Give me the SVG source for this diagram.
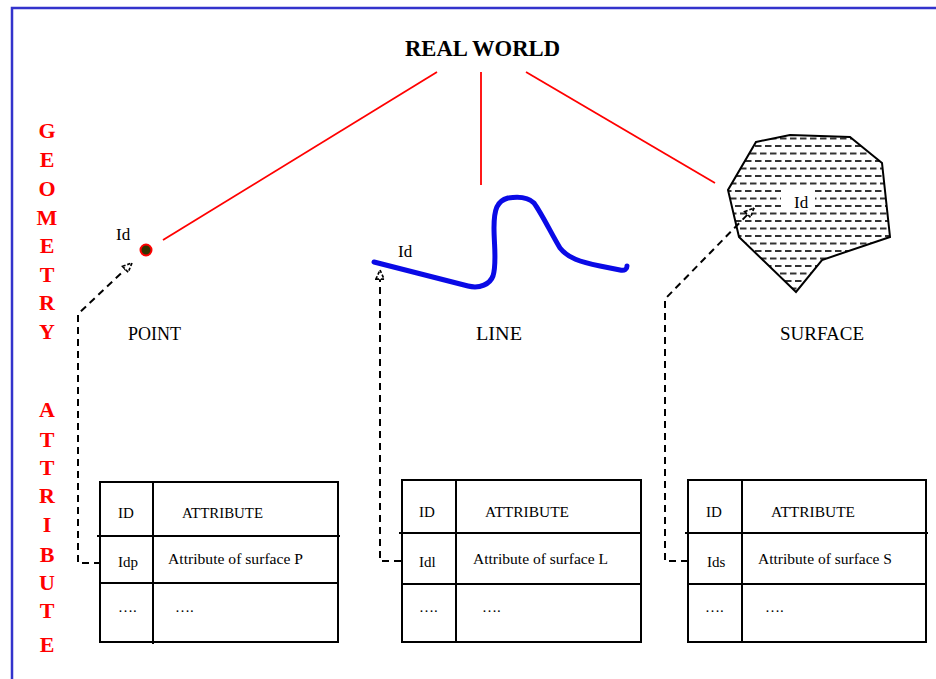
<svg xmlns="http://www.w3.org/2000/svg" width="936" height="679" viewBox="0 0 936 679">
  <style>
    .frame { fill: none; stroke: #3333cc; stroke-width: 2.5; }
    .ray { stroke: #ff0000; stroke-width: 1.8; fill: none; }
    .side { font-family: "Liberation Serif", "Times New Roman", serif; font-weight: bold; font-size: 22px; fill: #ff0000; text-anchor: middle; }
    .title { font-family: "Liberation Serif", "Times New Roman", serif; font-weight: bold; font-size: 24px; fill: #000; }
    .lbl { font-family: "Liberation Serif", "Times New Roman", serif; font-size: 18px; fill: #000; }
    .id { font-family: "Liberation Serif", "Times New Roman", serif; font-size: 17px; fill: #000; }
    .cell { font-family: "Liberation Serif", "Times New Roman", serif; font-size: 15px; fill: #000; }
    .grid { fill: none; stroke: #000; stroke-width: 2; }
    .link { fill: none; stroke: #000; stroke-width: 2; stroke-dasharray: 7 5; }
  </style>
  <defs>
    <marker id="openArrow" viewBox="0 0 12 12" refX="11" refY="6" markerWidth="11" markerHeight="11" markerUnits="userSpaceOnUse" orient="auto">
      <path d="M1,1.5 L11,6 L1,10.5 Z" fill="#fff" stroke="#000" stroke-width="1.8" stroke-dasharray="3.5 2"/>
    </marker>
    <pattern id="waterDash" width="10" height="15" patternUnits="userSpaceOnUse">
      <rect width="10" height="15" fill="#fff"/>
      <line x1="0" y1="3.5" x2="6.5" y2="3.5" stroke="#333" stroke-width="2"/>
      <line x1="5" y1="11" x2="10" y2="11" stroke="#333" stroke-width="2"/>
      <line x1="0" y1="11" x2="1.5" y2="11" stroke="#333" stroke-width="2"/>
    </pattern>
  </defs>

  <!-- outer frame, running off the right and bottom edges -->
  <rect class="frame" x="12" y="8" width="940" height="690"/>

  <!-- side captions -->
  <g id="geometry-caption">
    <text class="side" x="47" y="138">G</text>
    <text class="side" x="47" y="167">E</text>
    <text class="side" x="47" y="196">O</text>
    <text class="side" x="47" y="225">M</text>
    <text class="side" x="47" y="253">E</text>
    <text class="side" x="47" y="282">T</text>
    <text class="side" x="47" y="310">R</text>
    <text class="side" x="47" y="339">Y</text>
  </g>
  <g id="attribute-caption">
    <text class="side" x="47" y="417">A</text>
    <text class="side" x="47" y="447">T</text>
    <text class="side" x="47" y="475">T</text>
    <text class="side" x="47" y="503">R</text>
    <text class="side" x="47" y="532">I</text>
    <text class="side" x="47" y="562">B</text>
    <text class="side" x="47" y="590">U</text>
    <text class="side" x="47" y="618">T</text>
    <text class="side" x="47" y="652">E</text>
  </g>

  <g id="real-world">
    <text class="title" x="405" y="56" textLength="155" lengthAdjust="spacingAndGlyphs">REAL WORLD</text>
  </g>

  <!-- point feature -->
  <g id="point">
    <circle cx="146" cy="250" r="5.5" fill="#333300" stroke="#ff0000" stroke-width="2"/>
    <text class="id" x="116" y="240">Id</text>
    <text class="lbl" x="128" y="340" textLength="53" lengthAdjust="spacingAndGlyphs">POINT</text>
  </g>

  <!-- line feature -->
  <g id="line">
    <path d="M374,262 L468,286 C480,289 490,284 493,276 C497,264 494,245 494,228 C494,209 497,201 508,198 C520,196 528,197 534,203 C542,214 552,235 560,248 C568,258 580,262 600,266 L620,270 C625,271 627,269 627,266" fill="none" stroke="#0a0ae6" stroke-width="5" stroke-linecap="round" stroke-linejoin="round"/>
    <text class="id" x="398" y="257">Id</text>
    <text class="lbl" x="476" y="340" textLength="46" lengthAdjust="spacingAndGlyphs">LINE</text>
  </g>

  <!-- surface feature -->
  <g id="surface">
    <polygon points="756,142 790,135 850,137 882,163 890,237 822,260 796,292 739,237 728,190" fill="url(#waterDash)" stroke="#000" stroke-width="2"/>
    <rect x="781" y="188" width="34" height="23" fill="#fff"/>
    <text class="id" x="794" y="208">Id</text>
    <text class="lbl" x="780" y="340" textLength="84" lengthAdjust="spacingAndGlyphs">SURFACE</text>
  </g>

  <!-- connectors from the real world to each feature, and from tables to features -->
  <g id="connectors">
    <line class="ray" x1="437" y1="72" x2="163" y2="240"/>
    <line class="ray" x1="481" y1="72" x2="481" y2="185"/>
    <line class="ray" x1="526" y1="72" x2="715" y2="183"/>
    <path class="link" d="M101,563 L78,563 L78,314 L132,263" marker-end="url(#openArrow)"/>
    <path class="link" d="M401,561 L380,561 L380,270" marker-end="url(#openArrow)"/>
    <path class="link" d="M688,561 L665,561 L665,299 L754,208" marker-end="url(#openArrow)"/>
  </g>

  <!-- attribute tables -->
  <g id="table-point">
    <rect class="grid" x="100" y="482" width="238" height="160"/>
    <line class="grid" x1="153" y1="482" x2="153" y2="644"/>
    <line class="grid" x1="97" y1="536" x2="340" y2="536"/>
    <line class="grid" x1="100" y1="583" x2="338" y2="583"/>
    <text class="cell" x="118" y="518">ID</text>
    <text class="cell" x="182" y="518" textLength="81" lengthAdjust="spacingAndGlyphs">ATTRIBUTE</text>
    <text class="cell" x="118" y="567">Idp</text>
    <text class="cell" x="168" y="564" textLength="135" lengthAdjust="spacingAndGlyphs">Attribute of surface P</text>
    <text class="cell" x="118" y="612">&#8230;.</text>
    <text class="cell" x="175" y="612">&#8230;.</text>
  </g>

  <g id="table-line">
    <rect class="grid" x="402" y="480" width="239" height="162"/>
    <line class="grid" x1="456" y1="480" x2="456" y2="642"/>
    <line class="grid" x1="399" y1="533" x2="641" y2="533"/>
    <line class="grid" x1="402" y1="584" x2="641" y2="584"/>
    <text class="cell" x="419" y="517">ID</text>
    <text class="cell" x="485" y="517" textLength="84" lengthAdjust="spacingAndGlyphs">ATTRIBUTE</text>
    <text class="cell" x="419" y="567">Idl</text>
    <text class="cell" x="473" y="564" textLength="135" lengthAdjust="spacingAndGlyphs">Attribute of surface L</text>
    <text class="cell" x="419" y="612">&#8230;.</text>
    <text class="cell" x="482" y="612">&#8230;.</text>
  </g>

  <g id="table-surface">
    <rect class="grid" x="688" y="480" width="238" height="162"/>
    <line class="grid" x1="742" y1="480" x2="742" y2="642"/>
    <line class="grid" x1="685" y1="533" x2="928" y2="533"/>
    <line class="grid" x1="688" y1="584" x2="926" y2="584"/>
    <text class="cell" x="706" y="517">ID</text>
    <text class="cell" x="771" y="517" textLength="84" lengthAdjust="spacingAndGlyphs">ATTRIBUTE</text>
    <text class="cell" x="707" y="567">Ids</text>
    <text class="cell" x="758" y="564" textLength="134" lengthAdjust="spacingAndGlyphs">Attribute of surface S</text>
    <text class="cell" x="705" y="612">&#8230;.</text>
    <text class="cell" x="765" y="612">&#8230;.</text>
  </g>
</svg>
